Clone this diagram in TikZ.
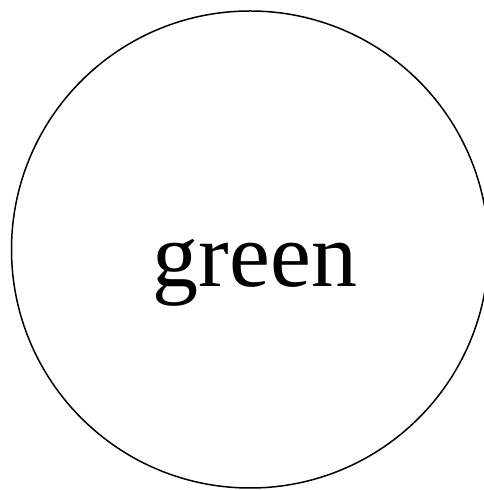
\documentclass[tikz,border=0pt]{standalone}
\usepackage{fontspec}
\setmainfont{Liberation Serif}
\usepackage{tikz}

\begin{document}
\begin{tikzpicture}[x=1pt, y=1pt, every node/.style={font=\fontsize{92}{100}\selectfont}]
	\useasboundingbox (0,0) rectangle (483,490);
	\node[draw, circle, line width=1.5pt, minimum size=477pt, inner sep=0pt] (ring) at (250,240.5) {};
	\node[anchor=base, inner sep=0pt] (word) at (255,203) {green};
	\end{tikzpicture}
\end{document}
